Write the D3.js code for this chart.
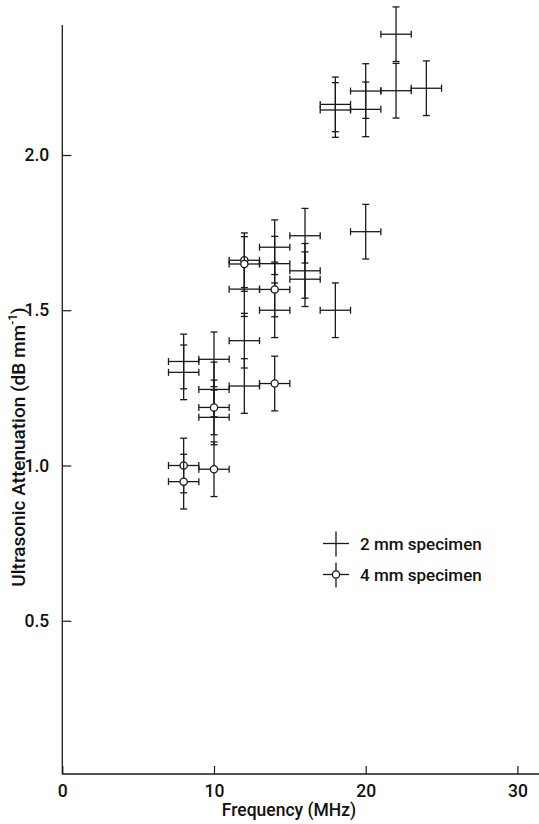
<!DOCTYPE html>
<html>
<head>
<meta charset="utf-8">
<script src="https://cdn.jsdelivr.net/npm/d3@7"></script>
<style>
  body { margin: 0; background: #fff; }
  svg { display: block; }
  text { font-family: Roboto, "Liberation Sans", sans-serif; font-weight: 500; fill: #111; }
</style>
</head>
<body>
<svg id="chart" width="539" height="824"></svg>
<script>
// Frequency (MHz), attenuation (dB/mm)
const thinSpecimen = [
  [8, 1.335], [8, 1.30],
  [10, 1.342], [10, 1.245], [10, 1.155],
  [12, 1.402], [12, 1.256], [12, 1.568],
  [14, 1.703], [14, 1.65], [14, 1.50],
  [16, 1.74], [16, 1.627], [16, 1.60],
  [18, 1.50], [20, 1.753],
  [18, 2.163], [18, 2.145],
  [20, 2.206], [20, 2.147],
  [22, 2.389], [22, 2.207],
  [24, 2.215]
];
const thickSpecimen = [
  [8, 1.0], [8, 0.948],
  [10, 1.187], [10, 0.988],
  [12, 1.661], [12, 1.649],
  [14, 1.567], [14, 1.264]
];
const errFreq = 1.0;   // +/- MHz
const errAtten = 0.088; // +/- dB/mm

const xTicks = [0, 10, 20, 30];
const yTicks = [0.5, 1.0, 1.5, 2.0];
const legendLabels = ["2 mm specimen", "4 mm specimen"];

const svg = d3.select("#chart");
const ink = "#1a1a1a";

const x = d3.scaleLinear().domain([0, 30]).range([62.3, 517.4]);
const y = d3.scaleLinear().domain([0, 2.5]).range([776, 776 - 2.5 * 310.5]);

// Axes
const xAxis = d3.axisBottom(x).tickValues(xTicks).tickSize(-8).tickPadding(11).tickFormat(d3.format("d"));
const gx = svg.append("g").attr("transform", "translate(0,774)").call(xAxis);
gx.select(".domain").remove();
gx.append("line").attr("x1", 62.3).attr("x2", 539).attr("stroke", ink).attr("stroke-width", 1.3);
gx.selectAll(".tick line").attr("stroke", ink).attr("stroke-width", 1.2);
gx.selectAll(".tick text").attr("font-size", 17.5).attr("fill", ink)
  .style("font-family", "Roboto, 'Liberation Sans', sans-serif").style("font-weight", 500);

const yAxis = d3.axisLeft(y).tickValues(yTicks).tickSize(-9).tickPadding(13).tickFormat(d3.format(".1f"));
const gy = svg.append("g").attr("transform", "translate(62.3,0)").call(yAxis);
gy.select(".domain").remove();
gy.append("line").attr("y1", 25).attr("y2", 774.6).attr("stroke", ink).attr("stroke-width", 1.3);
gy.selectAll(".tick line").attr("stroke", ink).attr("stroke-width", 1.2);
gy.selectAll(".tick text").attr("font-size", 17.5).attr("fill", ink)
  .style("font-family", "Roboto, 'Liberation Sans', sans-serif").style("font-weight", 500);

// Axis titles
svg.append("text")
  .attr("x", 289).attr("y", 816)
  .attr("text-anchor", "middle").attr("font-size", 17.5)
  .text("Frequency (MHz)");

const yTitle = svg.append("text")
  .attr("transform", "translate(25,447) rotate(-90)")
  .attr("text-anchor", "middle").attr("font-size", 19);
yTitle.append("tspan").text("Ultrasonic Attenuation (dB mm");
yTitle.append("tspan").attr("font-size", 12).attr("dy", -8).text("-1");
yTitle.append("tspan").attr("dy", 8).text(")");

// Error bars: horizontal and vertical with caps
const cap = 3.5;
const drawErrorBars = (group, data) => {
  const g = group.selectAll("g").data(data).enter().append("g")
    .attr("stroke", ink).attr("stroke-width", 1.3);
  g.append("line")
    .attr("x1", d => x(d[0] - errFreq)).attr("x2", d => x(d[0] + errFreq))
    .attr("y1", d => y(d[1])).attr("y2", d => y(d[1]));
  g.append("line")
    .attr("x1", d => x(d[0])).attr("x2", d => x(d[0]))
    .attr("y1", d => y(d[1] - errAtten)).attr("y2", d => y(d[1] + errAtten));
  [-1, 1].forEach(s => {
    g.append("line")
      .attr("x1", d => x(d[0] + s * errFreq)).attr("x2", d => x(d[0] + s * errFreq))
      .attr("y1", d => y(d[1]) - cap).attr("y2", d => y(d[1]) + cap);
    g.append("line")
      .attr("x1", d => x(d[0]) - cap).attr("x2", d => x(d[0]) + cap)
      .attr("y1", d => y(d[1] + s * errAtten)).attr("y2", d => y(d[1] + s * errAtten));
  });
  return g;
};

drawErrorBars(svg.append("g"), thinSpecimen);
const thickGroups = drawErrorBars(svg.append("g"), thickSpecimen);
thickGroups.append("circle")
  .attr("cx", d => x(d[0])).attr("cy", d => y(d[1]))
  .attr("r", 3.6).attr("fill", "#fff");

// Legend
const legend = svg.append("g");
legendLabels.forEach((label, i) => {
  const cy = 543.5 + i * 31;
  const row = legend.append("g").attr("stroke", ink).attr("stroke-width", 1.3);
  row.append("line").attr("x1", 323).attr("x2", 349).attr("y1", cy).attr("y2", cy);
  row.append("line").attr("x1", 336).attr("x2", 336).attr("y1", cy - 12).attr("y2", cy + 13);
  if (i === 1) row.append("circle").attr("cx", 336).attr("cy", cy).attr("r", 3.6).attr("fill", "#fff");
  legend.append("text")
    .attr("x", 360).attr("y", cy + 6)
    .attr("font-size", 17)
    .text(label);
});
</script>
</body>
</html>
